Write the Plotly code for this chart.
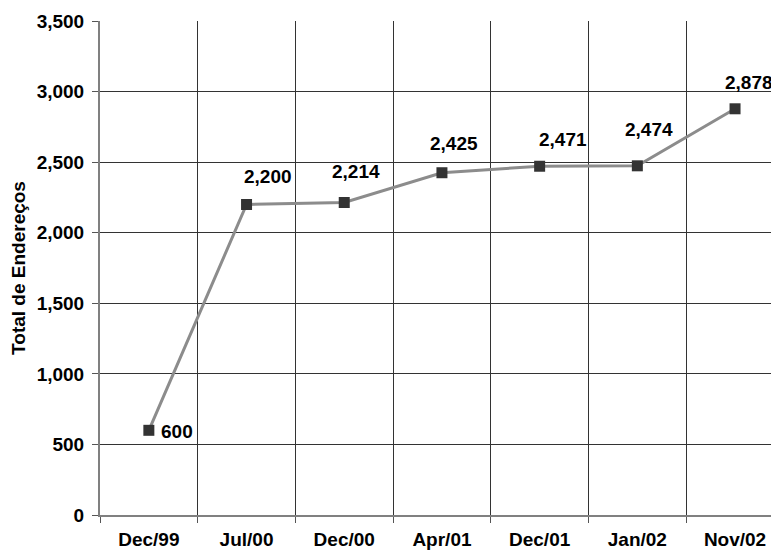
import plotly.graph_objects as go

categories = ["Dec/99", "Jul/00", "Dec/00", "Apr/01", "Dec/01", "Jan/02", "Nov/02"]
values = [600, 2200, 2214, 2425, 2471, 2474, 2878]
value_labels = ["600", "2,200", "2,214", "2,425", "2,471", "2,474", "2,878"]
y_ticks = [0, 500, 1000, 1500, 2000, 2500, 3000, 3500]
y_ticktext = ["0", "500", "1,000", "1,500", "2,000", "2,500", "3,000", "3,500"]

# label offsets (pixels) relative to each marker
label_dx = [28, 21, 12, 12, 23, 12, 14]
label_dy = [-1, 28, 31, 29, 27, 36, 26]

font_family = "Liberation Sans, Arial, sans-serif"

fig = go.Figure()
fig.add_trace(go.Scatter(
    x=categories, y=values, mode="lines+markers",
    line=dict(color="#8c8c8c", width=3),
    marker=dict(symbol="square", size=11, color="#333333"),
    hoverinfo="skip", showlegend=False,
))

for c, v, t, dx, dy in zip(categories, values, value_labels, label_dx, label_dy):
    fig.add_annotation(x=c, y=v, text="<b>%s</b>" % t, showarrow=False,
                       xshift=dx, yshift=dy,
                       font=dict(family=font_family, size=19, color="#000000"))

fig.update_layout(
    width=771, height=543,
    margin=dict(l=92, r=0, t=13, b=36),
    paper_bgcolor="white", plot_bgcolor="white",
    font=dict(family=font_family, size=19, color="#000000"),
    xaxis=dict(
        type="category", range=[-0.5, 6.45],
        tickson="boundaries", ticks="outside", ticklen=6, tickcolor="#555555",
        ticklabelstandoff=6,
        showgrid=True, gridcolor="#333333", gridwidth=1,
        showline=True, linecolor="#808080", linewidth=2,
        tickfont=dict(family=font_family, size=19, color="#000000", weight="bold"),
        fixedrange=True,
    ),
    yaxis=dict(
        range=[0, 3500], tickvals=y_ticks, ticktext=y_ticktext,
        ticks="outside", ticklen=6, tickcolor="#555555",
        ticklabelstandoff=4,
        showgrid=True, gridcolor="#333333", gridwidth=1,
        zeroline=False,
        showline=True, linecolor="#808080", linewidth=2,
        tickfont=dict(family=font_family, size=19, color="#000000", weight="bold"),
        title=dict(text="<b>Total de Endereços</b>", standoff=8,
                   font=dict(family=font_family, size=19, color="#000000")),
        fixedrange=True,
    ),
)

fig.write_html("out.html")
